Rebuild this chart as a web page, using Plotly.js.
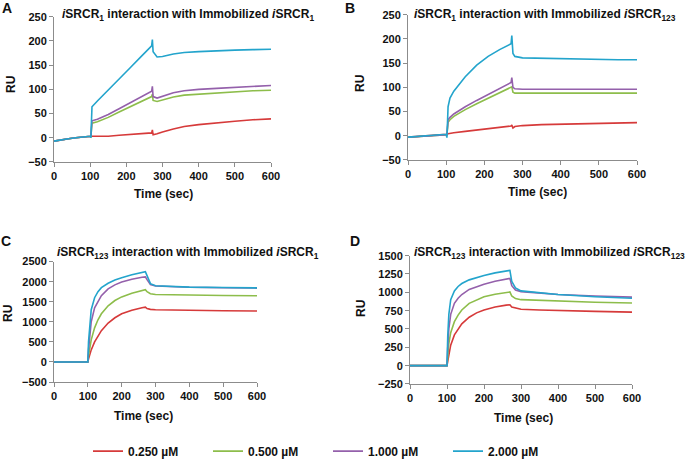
<!DOCTYPE html>
<html>
<head>
<meta charset="utf-8">
<script src="https://cdn.plot.ly/plotly-3.0.1.min.js"></script>
<style>html,body{margin:0;padding:0;background:#fff;}#chart{width:693px;height:466px;}</style>
</head>
<body>
<div id="chart"></div>
<script>
// ---------- DATA ----------
const seriesNames = ['0.250 µM', '0.500 µM', '1.000 µM', '2.000 µM'];
const seriesColors = ['#d63a3a', '#8dbd4b', '#9460ab', '#23a4cc'];

// Panel A: iSRCR1 on immobilized iSRCR1
const timeA   = [0, 20, 40, 60, 80, 100, 102, 105, 120, 150, 180, 210, 240, 270, 272, 274, 285, 300, 330, 360, 400, 450, 500, 550, 600];
const redA    = [-7, -4, -2, 0, 2, 3, 3, 3, 3, 3, 5, 7, 9, 10, 16, 6, 8, 12, 18, 23, 27, 31, 34, 37, 39];
const greenA  = [-7, -4, -2, 0, 2, 3, 2, 30, 33, 42, 53, 64, 75, 85, 90, 77, 75, 78, 84, 88, 90, 93, 95, 97, 98];
const purpleA = [-7, -4, -2, 0, 2, 3, 2, 35, 38, 48, 60, 72, 85, 96, 106, 85, 82, 86, 93, 97, 100, 102, 104, 106, 108];
const blueA   = [-7, -4, -2, 0, 2, 3, 0, 64, 76, 98, 121, 144, 167, 190, 203, 178, 167, 168, 173, 176, 178, 180, 181, 182, 183];

// Panel B: iSRCR1 on immobilized iSRCR123
const timeB   = [0, 20, 40, 60, 80, 100, 102, 105, 110, 120, 150, 180, 210, 240, 270, 272, 275, 280, 300, 350, 400, 450, 500, 550, 600];
const redB    = [-3, -2, 0, 1, 2, 3, 3, 4, 5, 6, 9, 12, 15, 17, 20, 22, 16, 19, 21, 23, 24, 25, 26, 26, 27];
const greenB  = [-3, -2, 0, 1, 2, 3, 2, 28, 33, 40, 54, 66, 77, 88, 100, 101, 90, 88, 88, 88, 88, 88, 88, 88, 88];
const purpleB = [-3, -2, 0, 1, 2, 3, 2, 33, 38, 45, 60, 73, 85, 97, 110, 120, 100, 97, 96, 96, 96, 96, 96, 96, 96];
const blueB   = [-3, -2, 0, 1, 2, 3, -4, 60, 78, 92, 122, 146, 164, 178, 190, 207, 170, 164, 161, 160, 160, 159, 158, 157, 157];

// Panel C: iSRCR123 on immobilized iSRCR1
const timeC   = [0, 50, 100, 102, 105, 110, 120, 130, 140, 160, 180, 200, 230, 260, 270, 275, 285, 300, 350, 400, 500, 600];
const redC    = [0, 0, 0, 70, 150, 300, 500, 650, 780, 970, 1100, 1200, 1290, 1350, 1365, 1330, 1310, 1300, 1290, 1280, 1275, 1270];
const greenC  = [0, 0, 0, 150, 300, 550, 850, 1050, 1200, 1400, 1530, 1620, 1710, 1780, 1800, 1750, 1700, 1680, 1670, 1660, 1655, 1650];
const purpleC = [0, 0, 0, 300, 600, 1000, 1350, 1520, 1650, 1820, 1920, 1990, 2060, 2110, 2120, 2050, 1930, 1890, 1870, 1860, 1850, 1840];
const blueC   = [0, 0, 0, 500, 900, 1300, 1600, 1750, 1850, 1960, 2040, 2100, 2170, 2230, 2250, 2150, 1950, 1900, 1880, 1865, 1855, 1845];

// Panel D: iSRCR123 on immobilized iSRCR123
const timeD   = [0, 50, 100, 102, 105, 110, 120, 130, 140, 160, 180, 200, 230, 260, 270, 275, 285, 300, 350, 400, 500, 600];
const redD    = [0, 0, 0, 60, 150, 280, 420, 500, 570, 660, 720, 760, 800, 825, 830, 800, 785, 770, 760, 750, 740, 730];
const greenD  = [0, 0, 0, 120, 300, 450, 600, 690, 760, 850, 900, 940, 975, 1000, 1005, 950, 915, 900, 890, 880, 865, 855];
const purpleD = [0, 0, 0, 250, 500, 700, 850, 920, 970, 1040, 1080, 1110, 1150, 1180, 1190, 1090, 1030, 1010, 985, 970, 950, 935];
const blueD   = [0, 0, 0, 400, 700, 900, 1020, 1080, 1120, 1170, 1205, 1230, 1265, 1290, 1300, 1150, 1060, 1020, 990, 970, 940, 920];

const panelTitles = [
  '<i>i</i>SRCR<sub>1</sub> interaction with Immobilized <i>i</i>SRCR<sub>1</sub>',
  '<i>i</i>SRCR<sub>1</sub> interaction with Immobilized <i>i</i>SRCR<sub>123</sub>',
  '<i>i</i>SRCR<sub>123</sub> interaction with Immobilized <i>i</i>SRCR<sub>1</sub>',
  '<i>i</i>SRCR<sub>123</sub> interaction with Immobilized <i>i</i>SRCR<sub>123</sub>'
];
const panelLetters = ['A', 'B', 'C', 'D'];
const xAxisTitle = 'Time (sec)';
const yAxisTitle = 'RU';

// ---------- LAYOUT HELPERS ----------
const W = 693, H = 466;
const px = x => x / W;
const py = y => 1 - y / H;
const FONT = 'Liberation Sans, Arial, sans-serif';

const panels = [
  {t: timeA, s: [redA, greenA, purpleA, blueA], box: [54, 271, 17, 164], yr: [-50, 250], dt: 50,
   letter: [7, 8], title: [188, 15], ytitle: [11, 86], xtitle: [163, 197]},
  {t: timeB, s: [redB, greenB, purpleB, blueB], box: [408, 637, 15, 162], yr: [-50, 250], dt: 50,
   letter: [350, 8], title: [545, 15], ytitle: [360, 84], xtitle: [537, 194]},
  {t: timeC, s: [redC, greenC, purpleC, blueC], box: [54, 257, 265, 387], yr: [-500, 2500], dt: 500,
   letter: [6, 244], title: [188, 256], ytitle: [8, 318], xtitle: [143, 421]},
  {t: timeD, s: [redD, greenD, purpleD, blueD], box: [410, 632, 259, 389], yr: [-250, 1500], dt: 250,
   letter: [355, 244], title: [549, 256], ytitle: [361, 313], xtitle: [523, 423]}
];

const traces = [];
const layout = {
  width: W, height: H,
  margin: {l: 0, r: 0, t: 0, b: 0},
  paper_bgcolor: '#ffffff', plot_bgcolor: '#ffffff',
  font: {family: FONT, color: '#111'},
  showlegend: true,
  legend: {orientation: 'h', x: px(88), y: py(457), xanchor: 'left', yanchor: 'middle',
           entrywidth: 75, entrywidthmode: 'pixels', tracegroupgap: 0,
           font: {family: FONT, size: 12, weight: 'bold', color: '#111'}},
  annotations: []
};

panels.forEach((p, i) => {
  const n = i + 1;
  const xa = 'xaxis' + (n === 1 ? '' : n), ya = 'yaxis' + (n === 1 ? '' : n);
  const xr = 'x' + (n === 1 ? '' : n), yr = 'y' + (n === 1 ? '' : n);
  p.s.forEach((vals, k) => {
    traces.push({x: p.t, y: vals, xaxis: xr, yaxis: yr, type: 'scatter', mode: 'lines',
      name: seriesNames[k], legendgroup: seriesNames[k], showlegend: i === 0,
      line: {color: seriesColors[k], width: 1.6}, hoverinfo: 'skip'});
  });
  const axCommon = {showgrid: false, zeroline: false, showline: true, linecolor: '#8c8c8c', linewidth: 1,
    ticks: 'outside', ticklen: 4, tickcolor: '#8c8c8c', tickwidth: 1,
    tickfont: {family: FONT, size: 11, weight: 'bold', color: '#111'}, fixedrange: true};
  layout[xa] = Object.assign({}, axCommon, {domain: [px(p.box[0]), px(p.box[1])], range: [0, 600], dtick: 100, tick0: 0,
    anchor: yr});
  layout[ya] = Object.assign({}, axCommon, {domain: [py(p.box[3]), py(p.box[2])], range: p.yr, dtick: p.dt, tick0: 0,
    anchor: xr});
  const ann = (pos, text, size, extra) => Object.assign({xref: 'paper', yref: 'paper', x: px(pos[0]), y: py(pos[1]),
    xanchor: 'center', yanchor: 'middle', showarrow: false, text: text,
    font: {family: FONT, size: size, weight: 'bold', color: '#111'}}, extra || {});
  layout.annotations.push(ann(p.letter, panelLetters[i], 14));
  layout.annotations.push(ann(p.title, panelTitles[i], 12));
  layout.annotations.push(ann(p.ytitle, yAxisTitle, 12, {textangle: -90}));
  layout.annotations.push(ann(p.xtitle, xAxisTitle, 12));
});

Plotly.newPlot('chart', traces, layout, {displayModeBar: false, staticPlot: true});
</script>
</body>
</html>
